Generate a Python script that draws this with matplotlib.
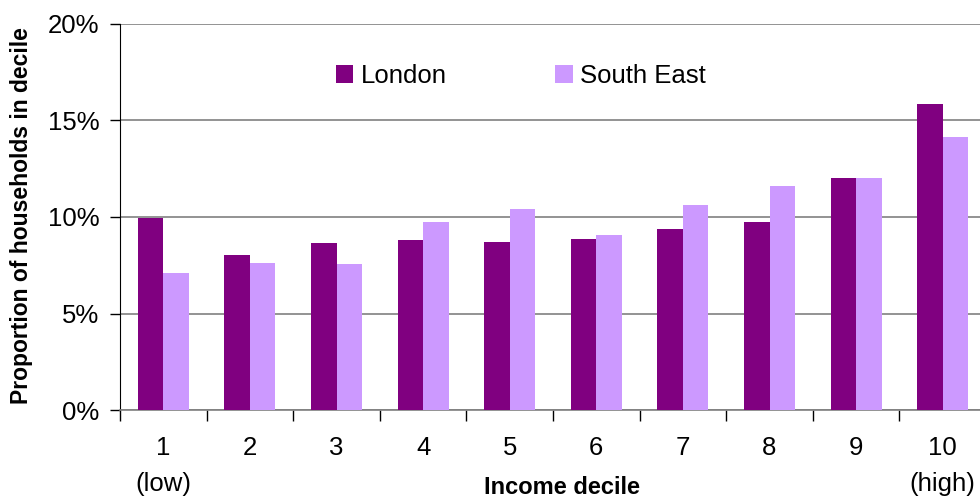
import matplotlib
matplotlib.use("Agg")
import matplotlib.pyplot as plt
import numpy as np

plt.rcParams['font.family'] = ['Liberation Sans', 'DejaVu Sans']

categories = ["1\n(low)", "2", "3", "4", "5", "6", "7", "8", "9", "10\n(high)"]
london = [9.95, 8.02, 8.64, 8.80, 8.70, 8.85, 9.37, 9.73, 12.01, 15.84]
south_east = [7.09, 7.61, 7.56, 9.73, 10.40, 9.06, 10.61, 11.59, 12.01, 14.13]
y_ticks = [0, 5, 10, 15, 20]
y_tick_labels = ["0%", "5%", "10%", "15%", "20%"]

W, H = 980, 498
fig = plt.figure(figsize=(W / 100, H / 100), dpi=100)
left, right, top, bottom = 120, 986, 24, 410
ax = fig.add_axes([left / W, 1 - bottom / H, (right - left) / W, (bottom - top) / H])

x = np.arange(len(categories))
bw = 0.295
ax.bar(x - bw / 2, london, width=bw, color="#800080", label="London", zorder=3)
ax.bar(x + bw / 2, south_east, width=bw, color="#CC99FF", label="South East", zorder=3)

ax.set_xlim(-0.5, len(categories) - 0.5)
ax.set_ylim(0, 20)

FS = 18.5
ax.set_yticks(y_ticks)
ax.set_yticklabels(y_tick_labels, fontsize=FS)
ax.tick_params(axis="y", direction="out", length=7, width=1, color="black", pad=8)
ax.yaxis.grid(True, color="#808080", linewidth=1.2, zorder=0)

ax.set_xticks(np.arange(len(categories) + 1) - 0.5)
ax.set_xticklabels([])
ax.tick_params(axis="x", which="major", direction="out", length=8, width=1, color="black")
ax.set_xticks(x, minor=True)
ax.set_xticklabels(categories, minor=True, fontsize=FS, linespacing=1.6)
ax.tick_params(axis="x", which="minor", length=0, pad=19)

for s in ["top", "right"]:
    ax.spines[s].set_visible(False)
ax.spines["left"].set_color("black")
ax.spines["bottom"].set_color("#808080")
ax.spines["bottom"].set_linewidth(1.2)

fig.text(22 / W, 1 - 216 / H, "Proportion of households in decile", rotation=90,
         fontsize=16.5, fontweight="bold", ha="center", va="center")
fig.text(562 / W, 1 - 487 / H, "Income decile", fontsize=17, fontweight="bold",
         ha="center", va="center")

leg = ax.legend(loc="center left", bbox_to_anchor=(336 / W, 1 - 76 / H),
                bbox_transform=fig.transFigure, ncol=2, frameon=False, fontsize=FS,
                handlelength=0.68, handleheight=0.68, handletextpad=0.3,
                columnspacing=4.2, borderpad=0, borderaxespad=0)

fig.savefig("out.png", dpi=100)
